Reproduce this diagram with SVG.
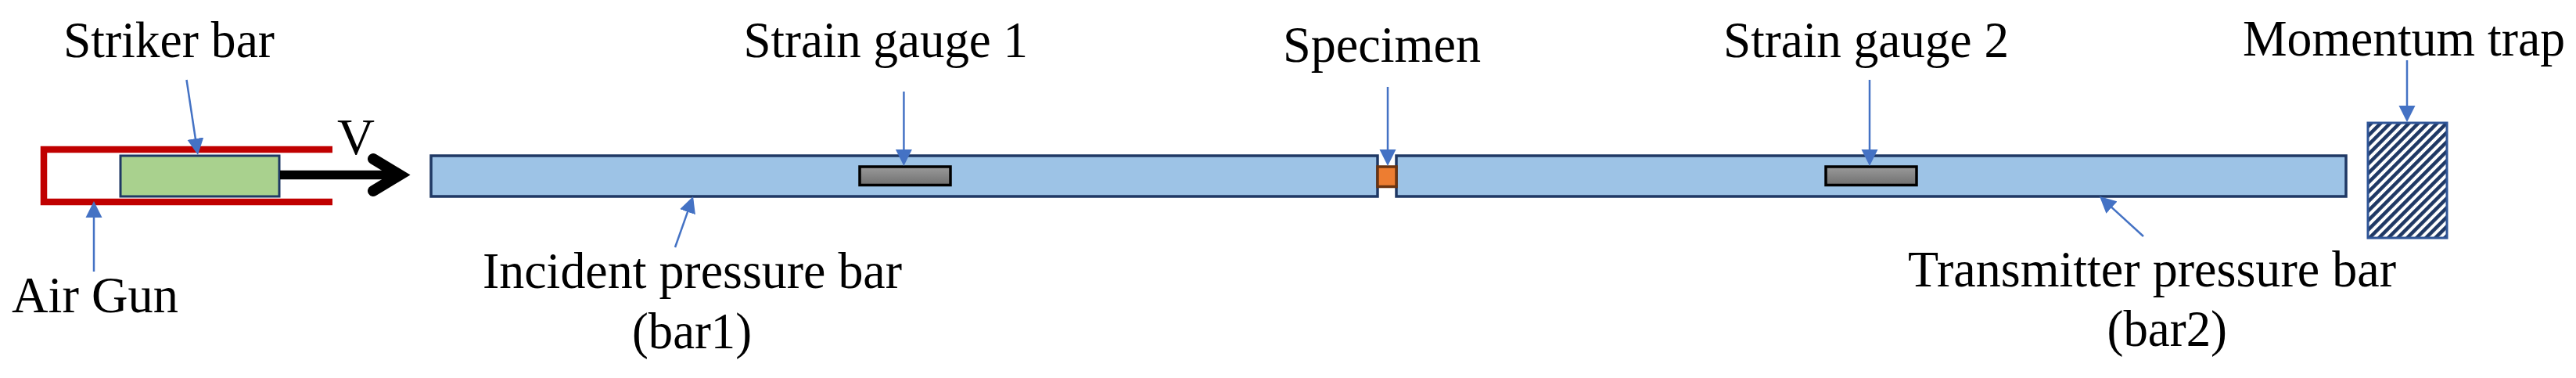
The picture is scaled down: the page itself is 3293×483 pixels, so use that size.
<svg xmlns="http://www.w3.org/2000/svg" width="3293" height="483" viewBox="0 0 3293 483">
<style>
text{font-family:"Liberation Serif","Times New Roman",serif;font-size:65px;fill:#000}
.bar{fill:#9DC3E6;stroke:#1F3864;stroke-width:3.5}
.gauge{fill:url(#grey);stroke:#000;stroke-width:3.5}
.lead{stroke:#4472C4;stroke-width:2.5;fill:none;marker-end:url(#tri)}
</style>
<defs>
<linearGradient id="grey" x1="0" y1="0" x2="0" y2="1"><stop offset="0" stop-color="#9a9a9a"/><stop offset="1" stop-color="#707070"/></linearGradient>
<pattern id="hatch" width="8.5" height="8.5" patternUnits="userSpaceOnUse" patternTransform="rotate(45)"><rect width="8.5" height="8.5" fill="#fff"/><rect width="4.6" height="8.5" fill="#1F3864"/></pattern>
<marker id="tri" markerUnits="userSpaceOnUse" markerWidth="22" markerHeight="22" refX="11" refY="11" orient="auto"><path d="M0 0.5L21 11L0 21.5Z" fill="#4472C4"/></marker>
</defs>
<rect width="3293" height="483" fill="#fff"/>
<g id="air-gun"><path d="M425 191H56V258H425" fill="none" stroke="#C00000" stroke-width="8.5"/><text x="15" y="399" textLength="213" lengthAdjust="spacingAndGlyphs">Air Gun</text></g>
<g id="striker-bar"><rect x="154" y="199" width="203" height="52" fill="#A9D18E" stroke="#1F3864" stroke-width="3"/><text x="81" y="73" textLength="270" lengthAdjust="spacingAndGlyphs">Striker bar</text></g>
<g id="velocity"><path d="M358 223.500H508" stroke="#000" stroke-width="11.500" fill="none"/><path d="M477 203L511 223.500L477 244" stroke="#000" stroke-width="14" stroke-linecap="round" fill="none"/><text x="431" y="197" textLength="48" lengthAdjust="spacingAndGlyphs">V</text></g>
<g id="incident-bar"><rect class="bar" x="551" y="199" width="1210" height="52"/><text x="617" y="368" textLength="536" lengthAdjust="spacingAndGlyphs">Incident pressure bar</text><text x="808" y="445" textLength="153" lengthAdjust="spacingAndGlyphs">(bar1)</text></g>
<g id="transmitter-bar"><rect class="bar" x="1785" y="199" width="1214" height="52"/><text x="2439" y="366" textLength="624" lengthAdjust="spacingAndGlyphs">Transmitter pressure bar</text><text x="2693.500" y="442" textLength="153.500" lengthAdjust="spacingAndGlyphs">(bar2)</text></g>
<g id="strain-gauge-1"><rect class="gauge" x="1099" y="213" width="116" height="23.500"/><text x="950.500" y="73" textLength="363.500" lengthAdjust="spacingAndGlyphs">Strain gauge 1</text></g>
<g id="strain-gauge-2"><rect class="gauge" x="2334" y="213" width="116" height="23.500"/><text x="2203" y="73" textLength="365" lengthAdjust="spacingAndGlyphs">Strain gauge 2</text></g>
<g id="specimen"><rect x="1761" y="213" width="24" height="25.500" fill="#ED7D31" stroke="#6B3410" stroke-width="3.500"/><text x="1640" y="79" textLength="253" lengthAdjust="spacingAndGlyphs">Specimen</text></g>
<g id="momentum-trap"><rect x="3027" y="157" width="101" height="147" fill="url(#hatch)" stroke="#2F5597" stroke-width="3"/><text x="2867" y="71" textLength="412" lengthAdjust="spacingAndGlyphs">Momentum trap</text></g>
<g id="connectors">
<path class="lead" d="M238.500 102L251.500 188"/>
<path class="lead" d="M120 347V267"/>
<path class="lead" d="M1155.400 117V202"/>
<path class="lead" d="M1774 111V202"/>
<path class="lead" d="M2390 102V202"/>
<path class="lead" d="M3077 77V146"/>
<path class="lead" d="M863 316L882.700 260.400"/>
<path class="lead" d="M2740 302L2691.400 257.700"/>
</g>
</svg>
